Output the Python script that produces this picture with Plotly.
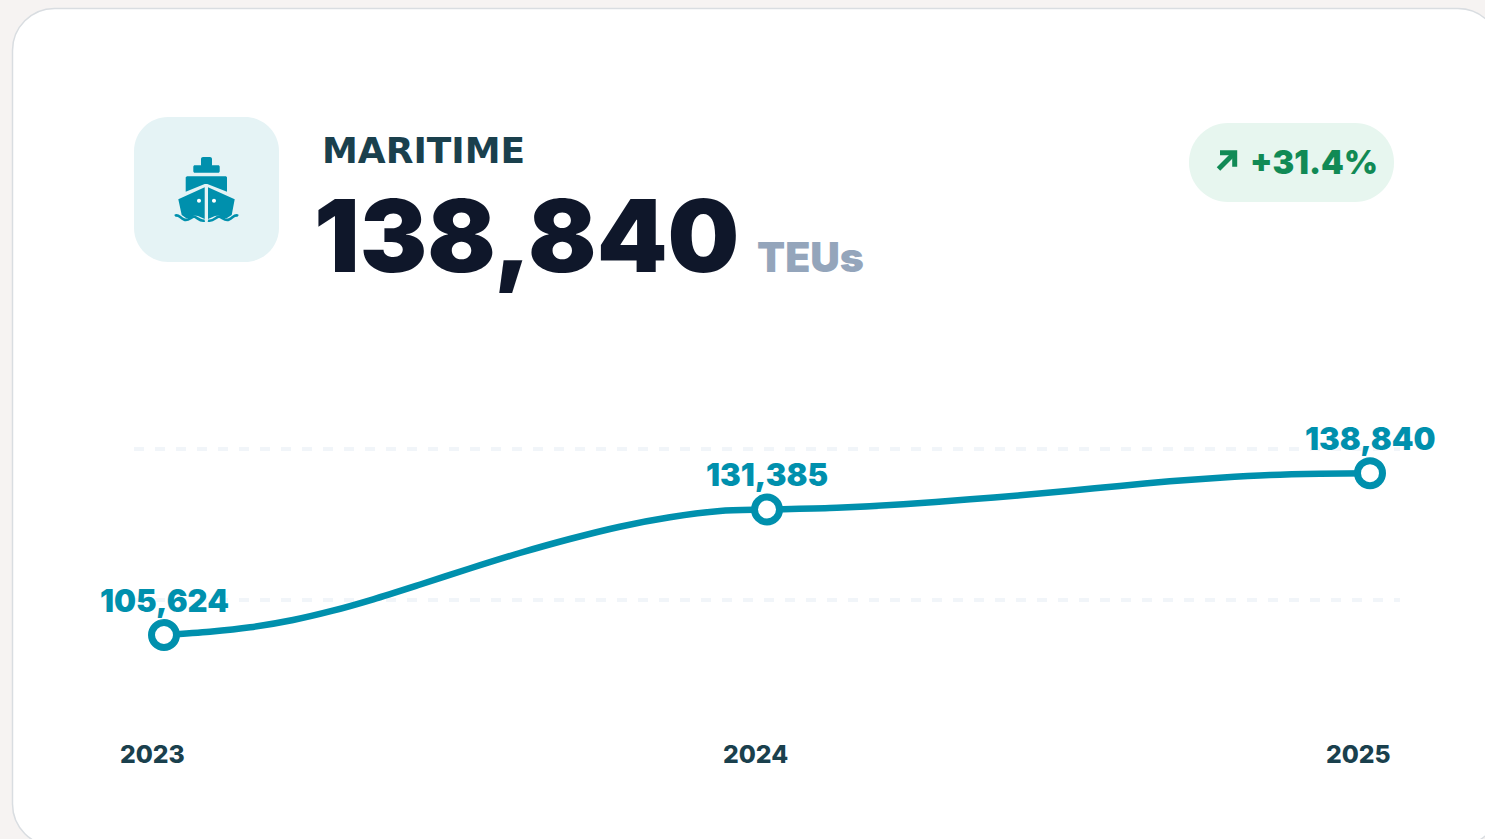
import plotly.graph_objects as go

W, H = 1485, 839

years = [2023, 2024, 2025]
teus = [105624, 131385, 138840]
value_labels = ["105,624", "131,385", "138,840"]
grid_values = [112810, 143810]

# the drawn curve
curve_years = [2023.000, 2023.076, 2023.143, 2023.214, 2023.280, 2023.347, 2023.425, 2023.507,
               2023.590, 2023.673, 2023.756, 2023.839, 2023.922, 2024.000, 2024.116, 2024.226,
               2024.337, 2024.420, 2024.502, 2024.585, 2024.668, 2024.751, 2024.834, 2024.917, 2025.000]
curve_teus = [105624, 106301, 107205, 108703, 110612, 112952, 115990, 119274,
              122456, 125330, 127855, 129784, 131077, 131385, 131755, 132453,
              133479, 134300, 135245, 136209, 137174, 137913, 138467, 138734, 138840]

TEAL = "#0090ad"
DARK = "#1a404d"
GREEN = "#118a55"


def px(x):
    return x / W


def py(y):
    return 1 - y / H


def path(cmds, close=True):
    # cmds use page pixels, converted to paper coords for the shape
    out = []
    for c in cmds:
        out.append(c[0] + " ".join(f"{px(c[i]):.5f},{py(c[i + 1]):.5f}" for i in range(1, len(c), 2)))
    return " ".join(out) + (" Z" if close else "")


def round_rect(x0, y0, x1, y1, r):
    k = r * 0.45
    return path([
        ("M", x0 + r, y0), ("L", x1 - r, y0),
        ("C", x1 - k, y0, x1, y0 + k, x1, y0 + r),
        ("L", x1, y1 - r),
        ("C", x1, y1 - k, x1 - k, y1, x1 - r, y1),
        ("L", x0 + r, y1),
        ("C", x0 + k, y1, x0, y1 - k, x0, y1 - r),
        ("L", x0, y0 + r),
        ("C", x0, y0 + k, x0 + k, y0, x0 + r, y0),
    ])


def fill_shape(d, color, line=None):
    return dict(type="path", xref="paper", yref="paper", path=d, fillcolor=color,
                line=dict(width=line[1], color=line[0]) if line else dict(width=0), layer="below")


def stroke_shape(d, color, width, layer="below"):
    return dict(type="path", xref="paper", yref="paper", path=d, fillcolor="rgba(0,0,0,0)",
                line=dict(width=width, color=color), layer=layer)


shapes = [
    fill_shape(round_rect(12.5, 8.5, 1500, 846, 42), "white", ("#d9dde1", 1.5)),
    fill_shape(round_rect(134, 117, 279, 262, 34), "#e5f3f5"),
    fill_shape(round_rect(1189, 123, 1394, 202, 39), "#e7f6ef"),
    # ship icon
    fill_shape(round_rect(201, 157, 212, 167, 2), TEAL),
    fill_shape(round_rect(193.3, 165.3, 219.7, 172.7, 1.5), TEAL),
    fill_shape(path([("M", 187, 176.3), ("L", 226, 176.3), ("L", 227, 177.3), ("L", 227, 191.7), ("L", 207.3, 184),
                     ("L", 204.7, 184), ("L", 185.7, 191.7), ("L", 185.7, 177.3)]), TEAL),
    fill_shape(path([("M", 178.3, 199.3), ("L", 204.7, 187.3), ("L", 204.7, 219), ("L", 198, 216), ("L", 194, 215.5),
                     ("L", 190, 218), ("L", 186, 218), ("L", 181.7, 215)]), TEAL),
    fill_shape(path([("M", 234.7, 199.3), ("L", 208, 187.3), ("L", 208, 219), ("L", 215, 216), ("L", 219, 215.5),
                     ("L", 223, 218), ("L", 227, 218), ("L", 231.7, 215)]), TEAL),
    stroke_shape(path([("M", 175, 216), ("C", 178, 213.5, 180, 218, 184, 219.5), ("C", 188, 221.5, 191, 217, 194, 216.5),
                       ("C", 197, 217, 200, 222, 204.7, 220.5)], close=False), TEAL, 2.6),
    stroke_shape(path([("M", 238, 216), ("C", 235, 213.5, 233, 218, 229, 219.5), ("C", 225, 221.5, 222, 217, 219, 216.5),
                       ("C", 216, 217, 213, 222, 208, 220.5)], close=False), TEAL, 2.6),
    fill_shape(round_rect(197, 198.7, 201, 202.7, 2), "white"),
    fill_shape(round_rect(212, 198.7, 216, 202.7, 2), "white"),
    # trend arrow
    stroke_shape(path([("M", 1218.5, 169), ("L", 1234, 153.5)], close=False), GREEN, 5, "above"),
    stroke_shape(path([("M", 1220, 152.8), ("L", 1234.7, 152.8), ("L", 1234.7, 166.7)], close=False), GREEN, 5, "above"),
]

fig = go.Figure()
fig.add_trace(go.Scatter(
    x=curve_years, y=curve_teus, mode="lines", cliponaxis=False,
    line=dict(color=TEAL, width=6.5, shape="spline", smoothing=0.8),
    hoverinfo="skip",
))
fig.add_trace(go.Scatter(
    x=years, y=teus, mode="markers", cliponaxis=False,
    marker=dict(size=25, color="white", line=dict(color=TEAL, width=7)),
    hoverinfo="skip",
))


def note(text, x, y, size, color, weight, family="Inter"):
    return dict(text=text, x=px(x), y=py(y), xref="paper", yref="paper", showarrow=False,
                xanchor="left", yanchor="middle",
                font=dict(family=family, size=size, color=color, weight=weight))


annotations = [
    note("MARITIME", 320, 151, 36, DARK, 700, "DejaVu Sans"),
    note("138,840", 312, 235, 101, "#0f172a", 900),
    note("TEUs", 755, 257, 41, "#94a5bb", 900),
    note("+31.4%", 1248, 163, 32.5, GREEN, 900),
]
halo = "0 0 3px white, 0 0 3px white, 0 0 3px white"
for yr, val, lab in zip(years, teus, value_labels):
    annotations.append(dict(text=lab, x=yr, y=val, xref="x", yref="y", showarrow=False, yshift=35,
                            font=dict(family="Inter", size=31, color=TEAL, weight=900, shadow=halo)))
    annotations.append(dict(text=str(yr), x=yr, y=py(754), xref="x", yref="paper", showarrow=False,
                            xshift=-12, yanchor="middle",
                            font=dict(family="Inter", size=24.7, color=DARK, weight=800)))

# axis ranges follow from where the years and values sit on the page
per_year = 603
per_px = (teus[1] - teus[0]) / 125.5
fig.update_layout(
    width=W, height=H, margin=dict(l=0, r=0, t=0, b=0),
    paper_bgcolor="#f6f3f2", plot_bgcolor="rgba(0,0,0,0)",
    showlegend=False, shapes=shapes, annotations=annotations,
    xaxis=dict(domain=[px(134), px(1400)], range=[2023 + (134 - 164) / per_year, 2023 + (1400 - 164) / per_year],
               showgrid=False, zeroline=False, showticklabels=False, ticks=""),
    yaxis=dict(domain=[py(700), py(400)], range=[teus[0] + (635 - 700) * per_px, teus[0] + (635 - 400) * per_px],
               tickvals=grid_values, showticklabels=False, ticks="", zeroline=False,
               showgrid=True, gridcolor="#f1f5f9", gridwidth=4, griddash="10px,11px"),
)

fig.write_html("out.html", config=dict(displayModeBar=False),
               post_script="document.body.style.margin='0';document.body.style.overflow='hidden';")
